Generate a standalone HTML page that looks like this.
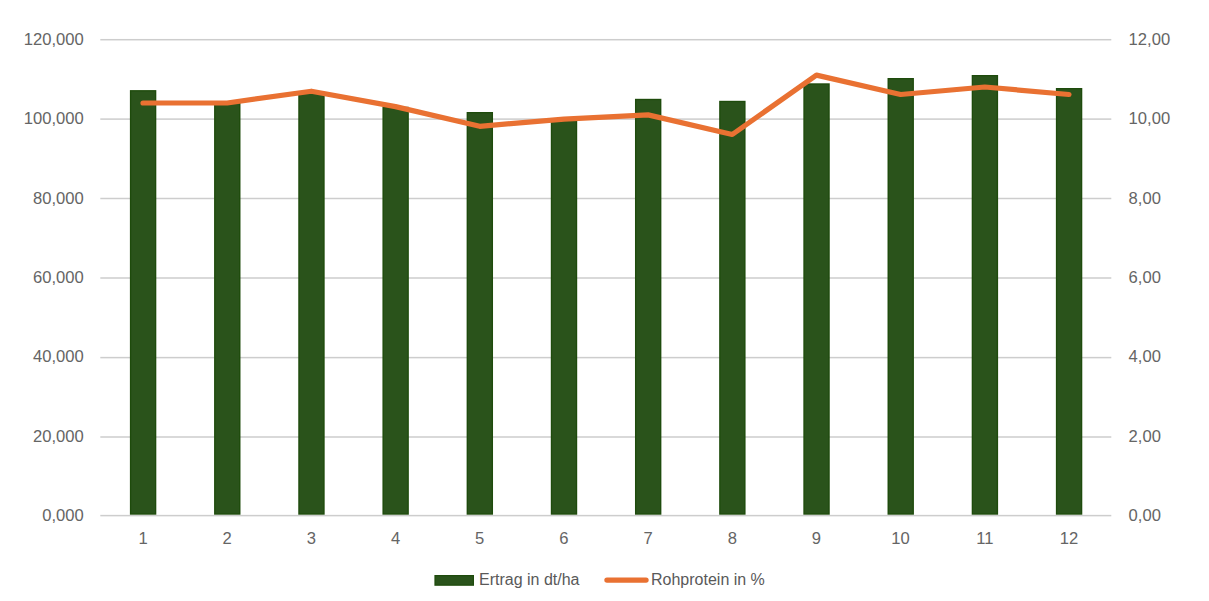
<!DOCTYPE html>
<html><head><meta charset="utf-8"><style>
html,body{margin:0;padding:0;background:#fff;width:1209px;height:601px;overflow:hidden}
svg{display:block}
.t{font-family:"Liberation Sans",sans-serif;font-size:16.6px;fill:#656565}
.l{font-family:"Liberation Sans",sans-serif;font-size:16px;fill:#595959}
</style></head><body>
<svg width="1209" height="601" viewBox="0 0 1209 601">
<rect x="100.3" width="1011" y="38.95" height="1.5" fill="#cdcdcd"/>
<rect x="100.3" width="1011" y="118.35" height="1.5" fill="#cdcdcd"/>
<rect x="100.3" width="1011" y="197.75" height="1.5" fill="#cdcdcd"/>
<rect x="100.3" width="1011" y="277.25" height="1.5" fill="#cdcdcd"/>
<rect x="100.3" width="1011" y="356.85" height="1.5" fill="#cdcdcd"/>
<rect x="100.3" width="1011" y="436.25" height="1.5" fill="#cdcdcd"/>
<rect x="100.3" width="1011" y="514.85" height="1.5" fill="#cdcdcd"/>
<rect x="129.90" y="90.10" width="26.4" height="424.60" fill="#1e4b0c"/>
<rect x="131.20" y="91.40" width="23.80" height="422.00" fill="#2a531b"/>
<rect x="214.08" y="102.50" width="26.4" height="412.20" fill="#1e4b0c"/>
<rect x="215.38" y="103.80" width="23.80" height="409.60" fill="#2a531b"/>
<rect x="298.26" y="92.30" width="26.4" height="422.40" fill="#1e4b0c"/>
<rect x="299.56" y="93.60" width="23.80" height="419.80" fill="#2a531b"/>
<rect x="382.44" y="106.80" width="26.4" height="407.90" fill="#1e4b0c"/>
<rect x="383.74" y="108.10" width="23.80" height="405.30" fill="#2a531b"/>
<rect x="466.62" y="112.00" width="26.4" height="402.70" fill="#1e4b0c"/>
<rect x="467.92" y="113.30" width="23.80" height="400.10" fill="#2a531b"/>
<rect x="550.80" y="119.50" width="26.4" height="395.20" fill="#1e4b0c"/>
<rect x="552.10" y="120.80" width="23.80" height="392.60" fill="#2a531b"/>
<rect x="634.98" y="98.80" width="26.4" height="415.90" fill="#1e4b0c"/>
<rect x="636.28" y="100.10" width="23.80" height="413.30" fill="#2a531b"/>
<rect x="719.16" y="100.80" width="26.4" height="413.90" fill="#1e4b0c"/>
<rect x="720.46" y="102.10" width="23.80" height="411.30" fill="#2a531b"/>
<rect x="803.34" y="83.30" width="26.4" height="431.40" fill="#1e4b0c"/>
<rect x="804.64" y="84.60" width="23.80" height="428.80" fill="#2a531b"/>
<rect x="887.52" y="78.00" width="26.4" height="436.70" fill="#1e4b0c"/>
<rect x="888.82" y="79.30" width="23.80" height="434.10" fill="#2a531b"/>
<rect x="971.70" y="75.00" width="26.4" height="439.70" fill="#1e4b0c"/>
<rect x="973.00" y="76.30" width="23.80" height="437.10" fill="#2a531b"/>
<rect x="1055.88" y="88.00" width="26.4" height="426.70" fill="#1e4b0c"/>
<rect x="1057.18" y="89.30" width="23.80" height="424.10" fill="#2a531b"/>
<polyline points="143.00,103.00 227.18,103.00 311.36,91.20 395.54,106.60 479.72,126.30 563.90,119.10 648.08,114.90 732.26,134.50 816.44,75.10 900.62,94.50 984.80,87.00 1068.98,94.50" fill="none" stroke="#e97132" stroke-width="5.2" stroke-linejoin="round" stroke-linecap="round"/>
<text x="83.8" y="521" text-anchor="end" class="t">0,000</text>
<text x="1128.6" y="521" class="t">0,00</text>
<text x="83.8" y="442" text-anchor="end" class="t">20,000</text>
<text x="1128.6" y="442" class="t">2,00</text>
<text x="83.8" y="362" text-anchor="end" class="t">40,000</text>
<text x="1128.6" y="362" class="t">4,00</text>
<text x="83.8" y="283" text-anchor="end" class="t">60,000</text>
<text x="1128.6" y="283" class="t">6,00</text>
<text x="83.8" y="204" text-anchor="end" class="t">80,000</text>
<text x="1128.6" y="204" class="t">8,00</text>
<text x="83.8" y="124" text-anchor="end" class="t">100,000</text>
<text x="1128.6" y="124" class="t">10,00</text>
<text x="83.8" y="45" text-anchor="end" class="t">120,000</text>
<text x="1128.6" y="45" class="t">12,00</text>
<text x="143.0" y="544" text-anchor="middle" class="t">1</text>
<text x="227.2" y="544" text-anchor="middle" class="t">2</text>
<text x="311.4" y="544" text-anchor="middle" class="t">3</text>
<text x="395.5" y="544" text-anchor="middle" class="t">4</text>
<text x="479.7" y="544" text-anchor="middle" class="t">5</text>
<text x="563.9" y="544" text-anchor="middle" class="t">6</text>
<text x="648.1" y="544" text-anchor="middle" class="t">7</text>
<text x="732.3" y="544" text-anchor="middle" class="t">8</text>
<text x="816.4" y="544" text-anchor="middle" class="t">9</text>
<text x="900.6" y="544" text-anchor="middle" class="t">10</text>
<text x="984.8" y="544" text-anchor="middle" class="t">11</text>
<text x="1069.0" y="544" text-anchor="middle" class="t">12</text>
<rect x="434.4" y="575.0" width="39.6" height="10.8" fill="#1e4b0c"/>
<rect x="435.6" y="576.2" width="37.2" height="8.4" fill="#2a531b"/>
<text x="479" y="584.6" class="l">Ertrag in dt/ha</text>
<line x1="607" x2="646" y1="580.1" y2="580.1" stroke="#e97132" stroke-width="5.4" stroke-linecap="round"/>
<text x="651" y="584.6" class="l">Rohprotein in %</text>
</svg></body></html>
